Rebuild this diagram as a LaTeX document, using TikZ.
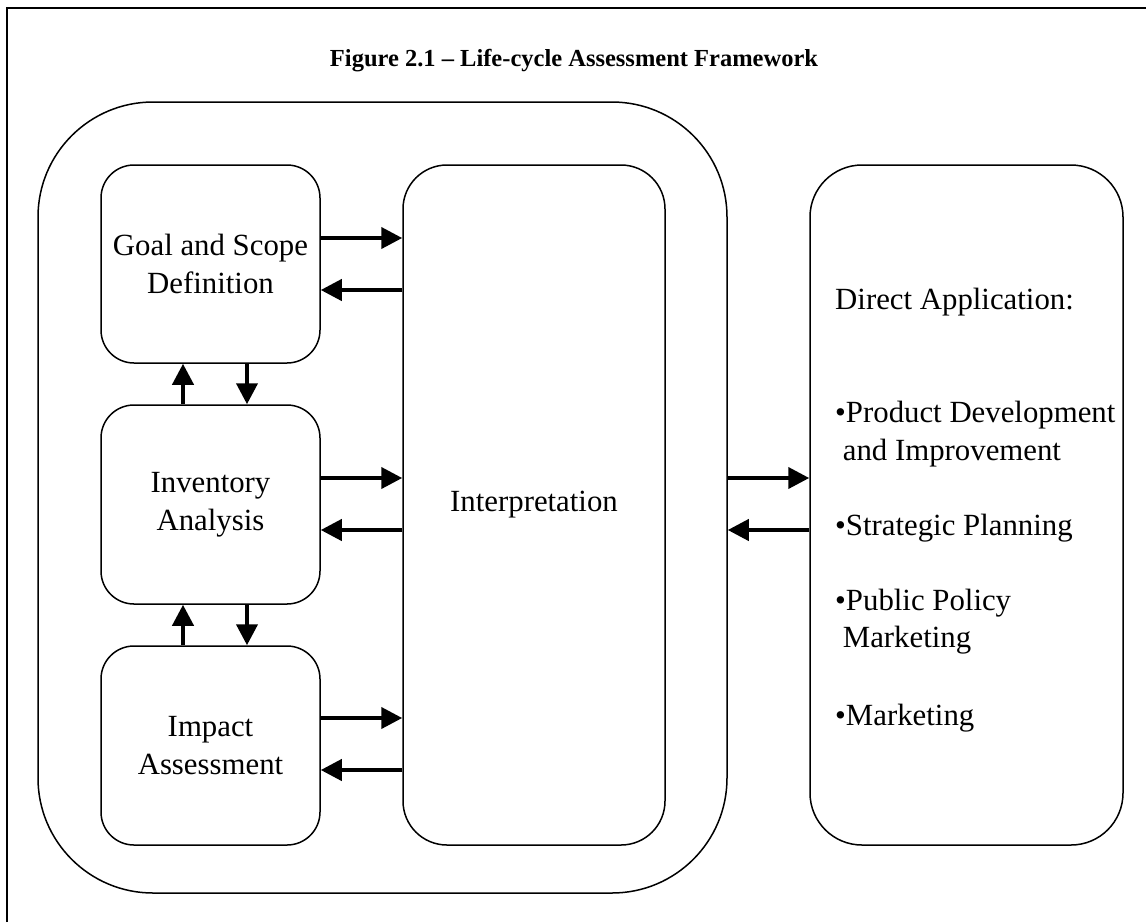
\documentclass[tikz,border=0pt]{standalone}
\usepackage{fontspec}
\setmainfont{Liberation Serif}
\usetikzlibrary{arrows.meta}
\begin{document}
\begin{tikzpicture}[x=1pt,y=-1pt,
  box/.style={draw=black,line width=1.5pt,minimum width=#1,inner sep=0pt},
  lbl/.style={font=\fontsize{30.8}{38}\selectfont,align=center},
  item/.style={font=\fontsize{30.8}{38}\selectfont,anchor=base west,inner sep=0pt},
  arr/.style={line width=4pt,-{Triangle[length=21pt,width=21pt]}}]
\useasboundingbox (0,0) rectangle (1146,922);
\coordinate (fa) at (7,922);
\coordinate (fb) at (7,7.5);
\coordinate (fc) at (1146,7.5);
\draw[line width=2pt] (fa) -- (fb) -- (fc);
\node[font=\fontsize{24.5}{29}\selectfont\bfseries,anchor=base] (title) at (574,66) {Figure 2.1 – Life-cycle Assessment Framework};
\node[box=689pt,minimum height=791pt,rounded corners=115pt] (big) at (382.5,497.5) {};
\node[box=219pt,minimum height=198pt,rounded corners=33pt,lbl] (goal) at (210.5,264) {Goal and Scope\\Definition};
\node[box=219pt,minimum height=199pt,rounded corners=33pt,lbl] (inv) at (210.5,504.5) {Inventory\\Analysis};
\node[box=219pt,minimum height=199pt,rounded corners=33pt,lbl] (imp) at (210.5,745.5) {Impact\\Assessment};
\node[box=262pt,minimum height=680pt,rounded corners=44pt,lbl] (interp) at (534,505) {Interpretation};
\node[box=313pt,minimum height=680pt,rounded corners=52pt] (direct) at (966.5,505) {};
\node[item] (da) at (835,309) {Direct Application:};
\node[item] (pd) at (835,422) {\textbullet Product Development};
\node[item] (pd2) at (835,460) {\ and Improvement};
\node[item] (sp) at (835,535) {\textbullet Strategic Planning};
\node[item] (pp) at (835,610) {\textbullet Public Policy};
\node[item] (pp2) at (835,647) {\ Marketing};
\node[item] (mk) at (835,725) {\textbullet Marketing};
% horizontal arrows
\draw[arr] (goal.east |- 0,238) -- (interp.west |- 0,238);
\draw[arr] (interp.west |- 0,290) -- (goal.east |- 0,290);
\draw[arr] (inv.east |- 0,478) -- (interp.west |- 0,478);
\draw[arr] (interp.west |- 0,530) -- (inv.east |- 0,530);
\draw[arr] (imp.east |- 0,718) -- (interp.west |- 0,718);
\draw[arr] (interp.west |- 0,770) -- (imp.east |- 0,770);
\draw[arr] (big.east |- 0,478) -- (direct.west |- 0,478);
\draw[arr] (direct.west |- 0,530) -- (big.east |- 0,530);
% vertical arrows
\draw[arr] (inv.north -| 183,0) -- (goal.south -| 183,0);
\draw[arr] (goal.south -| 247,0) -- (inv.north -| 247,0);
\draw[arr] (imp.north -| 183,0) -- (inv.south -| 183,0);
\draw[arr] (inv.south -| 247,0) -- (imp.north -| 247,0);
\end{tikzpicture}
\end{document}
